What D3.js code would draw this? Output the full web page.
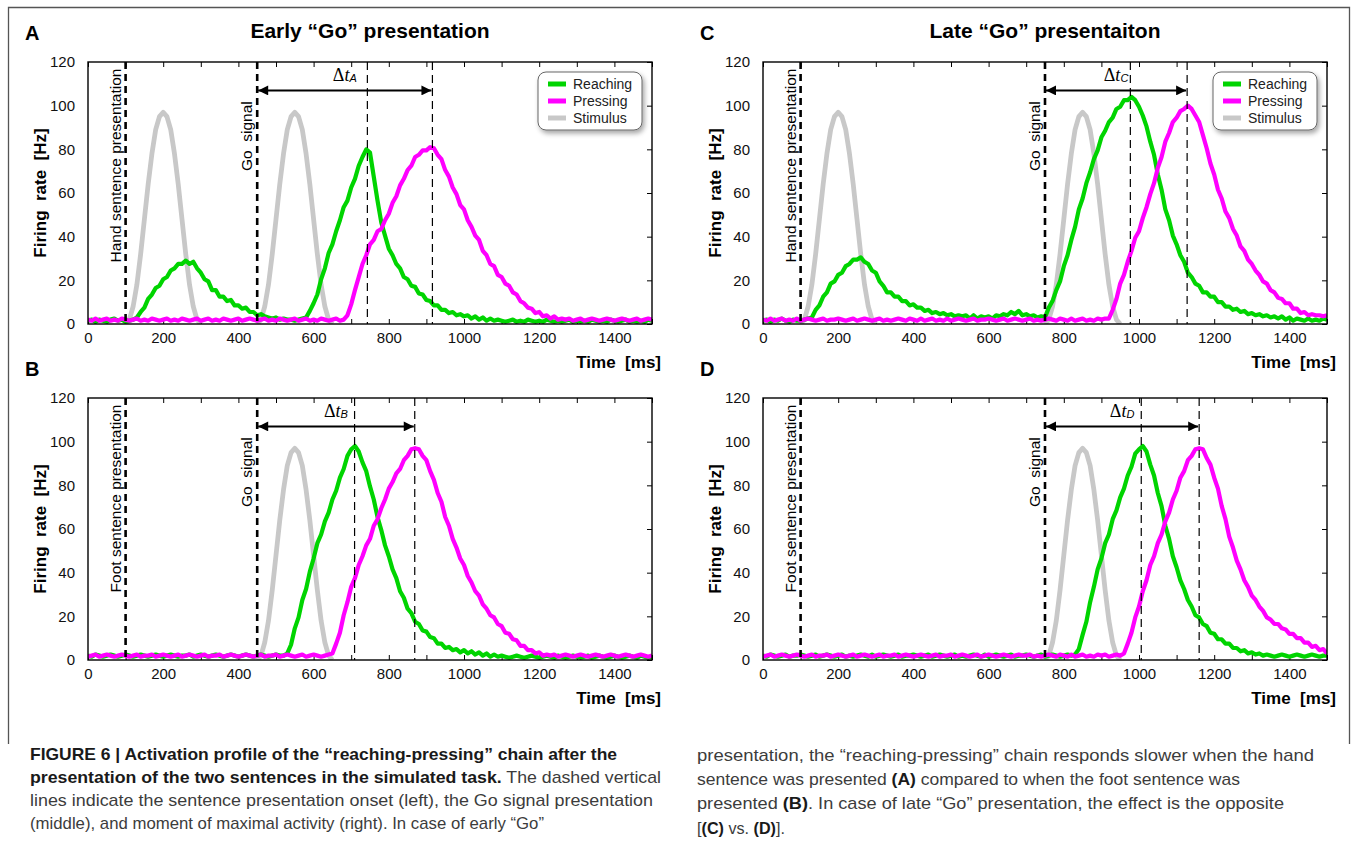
<!DOCTYPE html>
<html>
<head>
<meta charset="utf-8">
<script src="https://cdn.jsdelivr.net/npm/d3@7"></script>
<style>
body { margin: 0; background: #fff; }
svg text { font-family: "Liberation Sans", Arial, sans-serif; }
</style>
</head>
<body>
<svg id="fig" width="1354" height="847"></svg>
<script>
///////////////////// DATA /////////////////////////
// firing rates sampled every 10 ms, 0..1500 ms
const times = d3.range(0, 1501, 10);

const reachA = [1.5,2,1,2,1.5,1,2,2.5,1.5,2,
  1,1.5,2,3,5.5,7.5,11.5,13.5,16.5,17.5,
  20.5,21.5,24.5,25.5,27.5,27.5,29,27.5,28.5,25.5,
  23.5,20.5,19.5,15.5,15.5,12.5,12.5,10.5,11,8.5,
  8.5,7,7.5,5.5,5.5,4,4.5,3.5,3,2.5,
  3,2,2.5,2,2,1.5,2,2.5,3,6,
  9.5,13.5,20.5,25.5,32.5,36.5,42.5,47.5,53.5,56.5,
  62.5,66.5,72.5,76.5,80,78.5,67.5,56.5,46.5,40.5,
  34.5,31.5,27.5,25.5,21.5,20.5,17.5,17,14,13.5,
  11,10.5,8.5,8.5,6.5,6.5,5,5.5,4,4.5,
  3.5,4,2.5,3.5,2,3,1.5,2.5,1.5,2,
  1.5,1,1.5,2,1,1.5,1,2,1.5,1,
  1.5,1,2,1.5,1,1.5,1,1.5,2,1,
  1.5,1,1.5,1,2,1.5,1,1.5,1,2,
  1.5,1,1.5,2,1,1.5,1,1.5,1,2,
  1.5];
const pressA = [2,1.5,2.5,1.5,2,2.5,1.5,2,1.5,2.5,
  2,1.5,2,2.5,1.5,2,1.5,2.5,2,1.5,
  2,2.5,1.5,2,1.5,2.5,2,1.5,2,2.5,
  1.5,2,2.5,1.5,2,1.5,2.5,2,1.5,2,
  2.5,1.5,2,2.5,2,1.5,2,2.5,1.5,2,
  1.5,2.5,2,1.5,2,2.5,1.5,2,2.5,1.5,
  2,1.5,2.5,2,1.5,2,2.5,1.5,2,4,
  9,15.5,21.5,27.5,31.5,36.5,38.5,42.5,43.5,47.5,
  50.5,55.5,58.5,63.5,66.5,70.5,72.5,76.5,77.5,79.5,
  79.5,81,80.5,77.5,75.5,70.5,67.5,62.5,59.5,54.5,
  52.5,47.5,44.5,40.5,38.5,33.5,31.5,27.5,26.5,22.5,
  21.5,18.5,17.5,14.5,13.5,10.5,9.5,7.5,7,5,
  5.5,3.5,4,2.5,3.5,2,2.5,2,2.5,1.5,
  2,2.5,1.5,2,2.5,2,1.5,2,2.5,2,
  1.5,2,2.5,2,1.5,2,2.5,1.5,2,2.5,
  2];
const reachB = [2,1.5,2.5,2,1.5,2,2.5,2,1.5,2,
  2.5,2,1.5,2,2.5,2,1.5,2,2.5,2,
  1.5,2,2.5,2,1.5,2,2,2.5,1.5,2,
  2.5,2,1.5,2,2.5,2,1.5,2,2.5,2,
  1.5,2,2.5,2,1.5,2,2.5,2,1.5,2,
  2.5,2,2,3,7,14.5,19.5,27.5,32.5,40.5,
  46.5,53.5,57.5,63.5,67.5,73.5,77.5,83.5,87.5,93.5,
  96.5,98,95.5,90.5,86.5,79.5,73.5,65.5,59.5,52.5,
  47.5,41.5,37.5,31.5,28.5,23.5,21.5,17.5,16.5,13.5,
  13,10.5,10,7.5,7.5,5.5,6,4.5,5,3.5,
  4.5,3,4,2.5,3.5,2,3,1.5,2.5,1.5,
  2,1.5,1,1.5,2,1.5,1,1.5,2,1.5,
  1,1.5,2,1.5,1,2,1.5,1,1.5,2,
  1.5,1,1.5,2,1,1.5,2,1.5,1,1.5,
  2,1.5,1,1.5,2,1.5,1,2,1.5,1,
  1.5];
const pressB = [1.5,2,2.5,1.5,2,2.5,2,1.5,2,2.5,
  2,1.5,2,2.5,1.5,2,2,2.5,1.5,2,
  2.5,2,1.5,2,2.5,1.5,2,2.5,2,1.5,
  2,2.5,1.5,2,2,2.5,1.5,2,2.5,2,
  1.5,2,2.5,2,1.5,2,2.5,1.5,2,2,
  2.5,1.5,2,2.5,2,1.5,2,2.5,1.5,2,
  2.5,2,1.5,2,2.5,3,7.5,12.5,20.5,26.5,
  33.5,37.5,43.5,47.5,52.5,55.5,61.5,64.5,69.5,73.5,
  78.5,81.5,85.5,87.5,91.5,93.5,96.5,97,96.5,93.5,
  91.5,86.5,82.5,76.5,72.5,65.5,61.5,55.5,51.5,46.5,
  43.5,38.5,35.5,31.5,29.5,25.5,23.5,20.5,19.5,16.5,
  15.5,12.5,12,9.5,9,6.5,6.5,4.5,4.5,3,
  3.5,2,2.5,2,2.5,1.5,2,2.5,2,1.5,
  2,2.5,2,1.5,2,2.5,2,1.5,2,2.5,
  2,1.5,2,2.5,2,1.5,2,2.5,2,1.5,
  2];
const reachC = [1.5,2,1,2,1.5,2.5,1.5,1,2,1.5,
  1.5,2,2.5,3,6.5,8.5,12.5,14.5,18.5,19.5,
  22.5,23.5,26.5,27.5,29.5,29.5,30.5,28.5,27.5,24.5,
  23.5,19.5,17.5,14.5,14.5,12.5,12.5,10.5,10.5,8.5,
  9,7.5,7.5,6,6.5,5,5.5,4.5,5,4,
  4.5,3.5,4,3.5,4,2.5,4,2.5,3.5,3,
  3.5,2.5,4,3.5,4.5,4,5.5,4.5,6,4,
  4.5,3.5,4,3,3.5,3,7.5,10.5,15.5,19.5,
  26.5,31.5,38.5,44.5,52.5,57.5,64.5,69.5,75.5,79.5,
  85.5,88.5,92.5,94.5,98.5,99.5,102.5,102.5,104,102.5,
  99.5,95.5,90.5,83.5,77.5,68.5,61.5,52.5,47.5,40.5,
  36.5,31.5,28.5,23.5,21.5,18.5,17.5,14.5,14.5,12.5,
  12.5,10,10,8,8,6.5,7,5.5,6,4.5,
  5,4,4.5,3.5,4,3,3.5,2.5,3.5,2,
  3,1.5,2.5,2,1.5,2.5,1.5,2,1.5,2.5,
  2];
const pressC = [2,1.5,2.5,1.5,2,2.5,1.5,2,1.5,2.5,
  1.5,2,2.5,2,1.5,2,2.5,1.5,2,2,
  2.5,2,1.5,2,2.5,1.5,2,2.5,2,1.5,
  2,2.5,1.5,2,1.5,2,2.5,2,1.5,2.5,
  2,1.5,2.5,1.5,2,2.5,1.5,2,1.5,2.5,
  1.5,2,2.5,2,1.5,2,2.5,1.5,2,2,
  2.5,2,1.5,2,2.5,1.5,2,2.5,2,1.5,
  2,2.5,1.5,2,1.5,2,2.5,2,1.5,2.5,
  2,1.5,2.5,1.5,2,2.5,1.5,2,1.5,2.5,
  2,2.5,2.5,6.5,11.5,18.5,22.5,28.5,33.5,39.5,
  42.5,48.5,53.5,59.5,64.5,71.5,76.5,83.5,87.5,92.5,
  94.5,97.5,98.5,100,98.5,95.5,92.5,86.5,80.5,73.5,
  68.5,61.5,57.5,51.5,48.5,43.5,40.5,35.5,33.5,29.5,
  27.5,24.5,22.5,19.5,18.5,15.5,14.5,12,11.5,9.5,
  9.5,7,7,5,5.5,4,4.5,4,4,3.5,
  4];
const reachD = [2,1.5,2.5,2,1.5,2,2.5,1.5,2,2,
  2.5,2,1.5,2,2.5,1.5,2,2.5,2,1.5,
  2,2.5,1.5,2,1.5,2,2.5,2,1.5,2.5,
  1.5,2,2.5,2,1.5,2,2.5,1.5,2,2,
  2.5,2,1.5,2,2.5,1.5,2,2.5,2,1.5,
  2,2.5,1.5,2,1.5,2,2.5,2,1.5,2.5,
  1.5,2,2.5,2,1.5,2,2.5,1.5,2,2,
  2.5,2,1.5,2,2.5,1.5,2,2.5,2,1.5,
  2,2.5,2,2.5,5,11.5,17.5,26.5,33.5,41.5,
  46.5,53.5,57.5,64.5,68.5,74.5,78.5,84.5,88.5,94.5,
  96.5,98,95.5,89.5,84.5,76.5,70.5,61.5,55.5,47.5,
  42.5,36.5,32.5,27.5,24.5,20.5,19.5,16.5,15.5,12.5,
  12,9.5,9.5,7.5,7.5,5.5,5.5,4,4.5,3,
  3.5,2.5,3,2,2.5,2,1.5,2,2.5,2,
  1.5,2,2.5,2,1.5,2,2.5,2,1.5,2,
  2];
const pressD = [1.5,2,2.5,1.5,2,2.5,2,1.5,2,2.5,
  2,1.5,2,2.5,1.5,2,2,2.5,1.5,2,
  2.5,2,1.5,2,2.5,1.5,2,2.5,2,1.5,
  2,2.5,1.5,2,2,2.5,1.5,2,2.5,2,
  1.5,2,2.5,2,1.5,2,2.5,1.5,2,2,
  2.5,1.5,2,2.5,2,1.5,2,2.5,1.5,2,
  2.5,2,1.5,2,2.5,2,1.5,2,2.5,2,
  2,2.5,1.5,2,1.5,2,2.5,2,1.5,2.5,
  2,1.5,2.5,1.5,2,2.5,1.5,2,1.5,2.5,
  2,2.5,1.5,2,2.5,2,3,7.5,12.5,19.5,
  24.5,31.5,36.5,43.5,47.5,53.5,57.5,63.5,67.5,73.5,
  77.5,83.5,86.5,91.5,93.5,96.5,97,96.5,92.5,89.5,
  83.5,78.5,70.5,64.5,56.5,51.5,45.5,41.5,36.5,33.5,
  29.5,27.5,24.5,22.5,19.5,18.5,16.5,16.5,14.5,14,
  12,12,10,10,8,8,6,6.5,4.5,5,
  3];

// stimulus profile, 0..200 ms after onset, every 10 ms
const stimProfile = [0,2,8,18,32,48,64,78,89,95,97,95,89,78,64,48,32,18,8,2,0];

const panelIds = ["A", "B", "C", "D"];
const sentenceLabels = ["Hand sentence presentation", "Foot sentence presentation",
                        "Hand sentence presentation", "Foot sentence presentation"];
const sentenceOnset = 100;
const goOnsets = [450, 450, 750, 750];
const stimOnsets = [[100, 450], [450], [100, 750], [750]];
const reachPeaks = [743, 709, 977, 1006];
const pressPeaks = [916, 869, 1128, 1160];
const reachSeries = [reachA, reachB, reachC, reachD];
const pressSeries = [pressA, pressB, pressC, pressD];
const arrowLevel = 107;

const xTicks = d3.range(0, 1401, 200);
const xMinor = d3.range(0, 1501, 100);
const yTicks = d3.range(0, 121, 20);
const columnTitles = ["Early \u201cGo\u201d presentation", "Late \u201cGo\u201d presentaiton"];
const legendItems = ["Reaching", "Pressing", "Stimulus"];
const colors = {Reaching: "#00d400", Pressing: "#ff00ff", Stimulus: "#c8c8c8"};

///////////////////// LAYOUT /////////////////////////
const svg = d3.select("#fig");
const W = 564, H = 262;
const panelPos = [{left: 88, top: 62}, {left: 88, top: 398}, {left: 763, top: 62}, {left: 763, top: 398}];

const defs = svg.append("defs");
let shadow = defs.append("filter").attr("id", "shadow")
    .attr("x", "-20%").attr("y", "-20%").attr("width", "150%").attr("height", "160%");
shadow.append("feDropShadow")
    .attr("dx", 2).attr("dy", 3).attr("stdDeviation", 2.5)
    .attr("flood-color", "#000").attr("flood-opacity", 0.35);

defs.append("marker")
    .attr("id", "arrow")
    .attr("viewBox", "0 0 10 10")
    .attr("refX", 10).attr("refY", 5)
    .attr("markerUnits", "userSpaceOnUse")
    .attr("markerWidth", 12).attr("markerHeight", 10)
    .attr("orient", "auto-start-reverse")
    .append("path").attr("d", "M0,0 L10,5 L0,10 z").attr("fill", "#000");

// outer frame
svg.append("path")
    .attr("d", "M8.5,744 V7.5 H1349.5 V744")
    .attr("fill", "none").attr("stroke", "#555").attr("stroke-width", 1.3);

// column titles
columnTitles.forEach((t, c) => {
  svg.append("text")
    .attr("x", c == 0 ? 370 : 1045).attr("y", 38)
    .attr("text-anchor", "middle")
    .style("font-weight", "bold").style("font-size", "21px")
    .text(t);
});

let drawPanel = (i) => {
  const pos = panelPos[i];
  const g = svg.append("g").attr("transform", `translate(${pos.left},${pos.top})`);
  const x = d3.scaleLinear().domain([0, 1500]).range([0, W]);
  const y = d3.scaleLinear().domain([0, 120]).range([H, 0]);

  defs.append("clipPath").attr("id", "clip" + i)
    .append("rect").attr("width", W).attr("height", H);

  // panel letter
  svg.append("text")
    .attr("x", pos.left - 63).attr("y", pos.top - 22)
    .style("font-weight", "bold").style("font-size", "20px")
    .text(panelIds[i]);

  // tick labels
  g.append("g")
    .attr("transform", `translate(0,${H})`)
    .call(d3.axisBottom(x).tickValues(xTicks).tickFormat(d3.format("d")).tickSize(0).tickPadding(8))
    .call(a => a.select(".domain").remove())
    .selectAll("text").style("font-size", "15px").style("font-family", "Liberation Sans, Arial, sans-serif").attr("fill", "#111");
  g.append("g")
    .call(d3.axisLeft(y).tickValues(yTicks).tickFormat(d3.format("d")).tickSize(0).tickPadding(13))
    .call(a => a.select(".domain").remove())
    .selectAll("text").style("font-size", "15px").style("font-family", "Liberation Sans, Arial, sans-serif").attr("fill", "#111");

  // inward ticks
  g.append("g").attr("transform", `translate(0,${H})`)
    .call(d3.axisBottom(x).tickValues(xMinor).tickSize(-5).tickFormat(""))
    .call(a => a.select(".domain").remove());
  g.append("g")
    .call(d3.axisTop(x).tickValues(xMinor).tickSize(-5).tickFormat(""))
    .call(a => a.select(".domain").remove());
  g.append("g").attr("transform", `translate(${W},0)`)
    .call(d3.axisRight(y).tickValues(yTicks).tickSize(-5).tickFormat(""))
    .call(a => a.select(".domain").remove());

  const plot = g.append("g").attr("clip-path", `url(#clip${i})`);
  const line = d3.line().x(d => x(d[0])).y(d => y(d[1]));

  // stimulus bumps
  stimOnsets[i].forEach(on => {
    plot.append("path")
      .datum(stimProfile.map((v, k) => [on + k * 10, v]))
      .attr("d", line)
      .attr("fill", "none").attr("stroke", colors.Stimulus)
      .attr("stroke-width", 4.8).attr("stroke-linejoin", "round");
  });

  // reaching and pressing
  [[reachSeries[i], colors.Reaching], [pressSeries[i], colors.Pressing]].forEach(([vals, col]) => {
    plot.append("path")
      .datum(times.map((t, k) => [t, vals[k]]))
      .attr("d", line)
      .attr("fill", "none").attr("stroke", col)
      .attr("stroke-width", 4.2).attr("stroke-linejoin", "round");
  });

  // thick dashed lines: sentence onset and Go signal
  [sentenceOnset, goOnsets[i]].forEach(t => {
    g.append("line")
      .attr("x1", x(t)).attr("x2", x(t)).attr("y1", 0).attr("y2", H)
      .attr("stroke", "#000").attr("stroke-width", 2.6).attr("stroke-dasharray", "7,5");
  });
  // thin dashed lines: peaks
  [reachPeaks[i], pressPeaks[i]].forEach(t => {
    g.append("line")
      .attr("x1", x(t)).attr("x2", x(t)).attr("y1", 0).attr("y2", H)
      .attr("stroke", "#000").attr("stroke-width", 1.2).attr("stroke-dasharray", "8,5");
  });

  // rotated labels
  g.append("text")
    .attr("transform", `translate(${x(sentenceOnset) - 5},${y(117)}) rotate(-90)`)
    .attr("text-anchor", "end")
    .style("font-size", "15.5px")
    .text(sentenceLabels[i]);
  g.append("text")
    .attr("transform", `translate(${x(goOnsets[i]) - 5},${y(102)}) rotate(-90)`)
    .attr("text-anchor", "end")
    .style("font-size", "15.5px")
    .text("Go  signal").style("white-space", "pre");

  // delta t arrow
  g.append("line")
    .attr("x1", x(goOnsets[i]) + 1).attr("x2", x(pressPeaks[i]) - 1)
    .attr("y1", y(arrowLevel)).attr("y2", y(arrowLevel))
    .attr("stroke", "#000").attr("stroke-width", 2)
    .attr("marker-start", "url(#arrow)").attr("marker-end", "url(#arrow)");
  const lab = g.append("text")
    .attr("x", (x(goOnsets[i]) + x(pressPeaks[i])) / 2)
    .attr("y", y(arrowLevel) - 9)
    .attr("text-anchor", "middle")
    .style("font-family", "Liberation Serif, Times New Roman, serif")
    .style("font-size", "18px");
  lab.append("tspan").text("\u0394");
  lab.append("tspan").style("font-style", "italic").text("t");
  lab.append("tspan").style("font-style", "italic").style("font-size", "11px")
    .style("font-family", "Liberation Sans, Arial, sans-serif").attr("dy", 1).text(panelIds[i]);

  // frame
  g.append("rect").attr("width", W).attr("height", H)
    .attr("fill", "none").attr("stroke", "#000").attr("stroke-width", 1.4);

  // axis titles
  g.append("text")
    .attr("transform", `translate(-42,${H / 2}) rotate(-90)`)
    .attr("text-anchor", "middle")
    .style("font-weight", "bold").style("font-size", "17px").style("white-space", "pre")
    .text("Firing  rate  [Hz]");
  g.append("text")
    .attr("x", W + 9).attr("y", H + 44)
    .attr("text-anchor", "end")
    .style("font-weight", "bold").style("font-size", "17px").style("white-space", "pre")
    .text("Time  [ms]");

  // legend on top panels
  if (i == 0 || i == 2) {
    const lg = g.append("g").attr("transform", `translate(${W - 114},10)`);
    lg.append("rect").attr("width", 104).attr("height", 58).attr("rx", 8)
      .attr("fill", "#fff").attr("stroke", "#666").attr("stroke-width", 1)
      .attr("filter", "url(#shadow)");
    legendItems.forEach((name, k) => {
      const yy = 12 + k * 17;
      lg.append("line").attr("x1", 10).attr("x2", 28).attr("y1", yy).attr("y2", yy)
        .attr("stroke", colors[name]).attr("stroke-width", 5);
      lg.append("text").attr("x", 35).attr("y", yy).attr("dy", "0.35em")
        .style("font-size", "14px").attr("fill", "#222").text(name);
    });
  }
};

panelIds.forEach((p, i) => drawPanel(i));

///////////////////// CAPTION /////////////////////////
const captionLines = [
  {x: 30, y: 760, w: 587, parts: [["FIGURE 6 | Activation profile of the \u201creaching-pressing\u201d chain after the", true]]},
  {x: 30, y: 783, w: 631, parts: [["presentation of the two sentences in the simulated task.", true], [" The dashed vertical", false]]},
  {x: 30, y: 806, w: 623, parts: [["lines indicate the sentence presentation onset (left), the Go signal presentation", false]]},
  {x: 30, y: 829, w: 514, parts: [["(middle), and moment of maximal activity (right). In case of early \u201cGo\u201d", false]]},
  {x: 697, y: 761, w: 617, parts: [["presentation, the \u201creaching-pressing\u201d chain responds slower when the hand", false]]},
  {x: 697, y: 785, w: 543, parts: [["sentence was presented ", false], ["(A)", true], [" compared to when the foot sentence was", false]]},
  {x: 697, y: 809, w: 587, parts: [["presented ", false], ["(B)", true], [". In case of late \u201cGo\u201d presentation, the effect is the opposite", false]]},
  {x: 697, y: 834, w: 88, parts: [["[", false], ["(C)", true], [" vs. ", false], ["(D)", true], ["].", false]]}
];
captionLines.forEach(l => {
  const t = svg.append("text")
    .attr("x", l.x).attr("y", l.y)
    .attr("textLength", l.w).attr("lengthAdjust", "spacingAndGlyphs")
    .style("font-size", "17px").style("white-space", "pre");
  l.parts.forEach(([s, b]) => {
    t.append("tspan").text(s)
      .style("font-weight", b ? "bold" : "normal")
      .attr("fill", b ? "#1a1a1a" : "#3c3c3c");
  });
});
</script>
</body>
</html>
